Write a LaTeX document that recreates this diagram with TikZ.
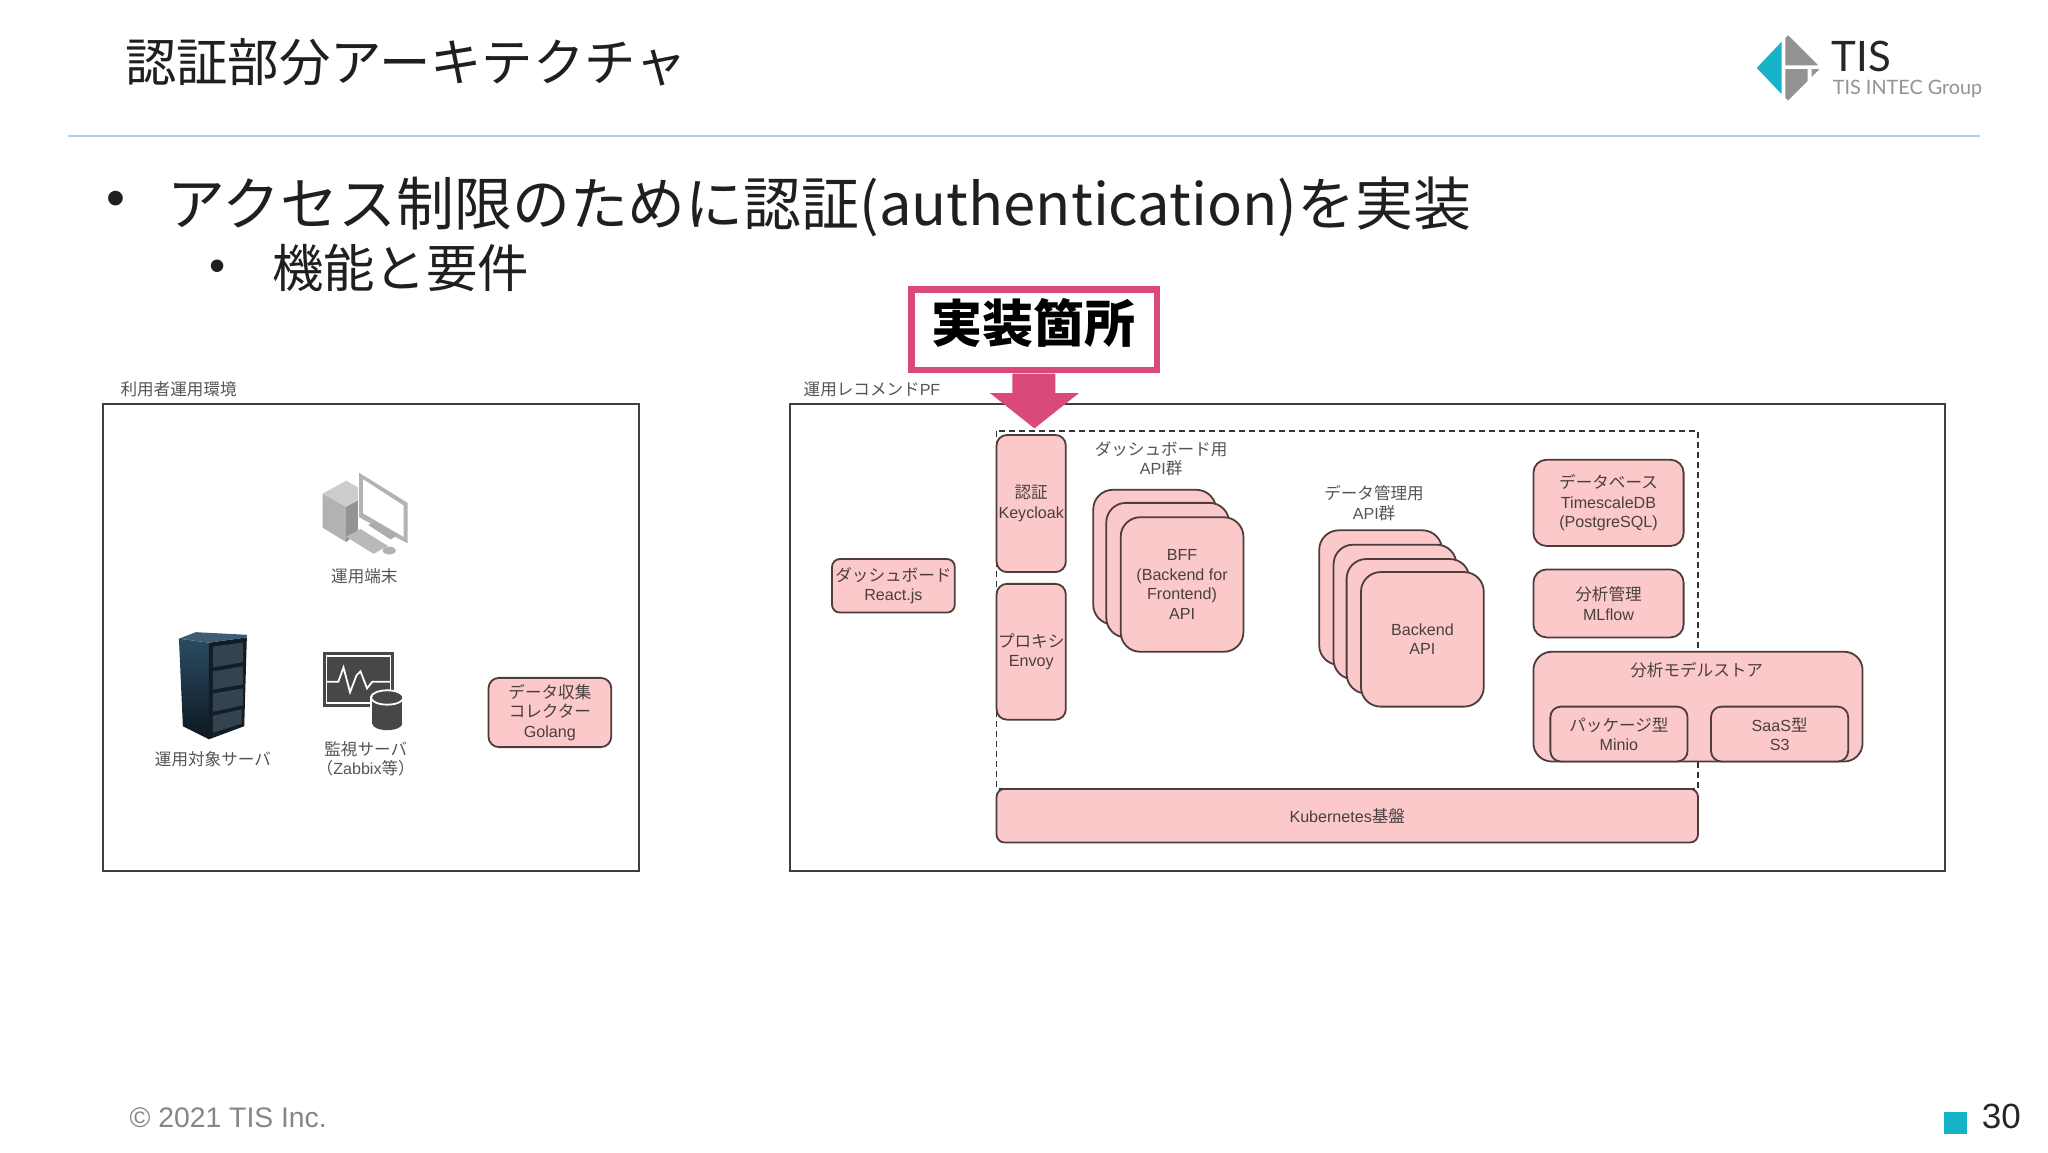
\documentclass[tikz,border=0pt]{standalone}
\usepackage{fontspec}
\setmainfont{Liberation Sans}
\newfontfamily\cjk{Noto Sans CJK JP}
\newfontfamily\cjkd[Scale=1.03]{Noto Sans CJK JP}
\newfontfamily\logofont{Lato}
\newcommand{\J}[1]{{\cjkd #1}}
\definecolor{pinkfill}{HTML}{FBC9C9}
\definecolor{pinkline}{HTML}{4E3C3C}
\definecolor{boxtext}{HTML}{4A3F3F}
\definecolor{labeltext}{HTML}{555555}
\definecolor{accent}{HTML}{D94A7A}
\definecolor{teal}{HTML}{16B3C8}
\definecolor{rulecol}{HTML}{A6D8E4}
\definecolor{frame}{HTML}{3E3E3E}
\definecolor{icondark}{HTML}{474747}
\definecolor{rackfront}{HTML}{121D26}
\definecolor{rackpanel}{HTML}{33434F}
\definecolor{racktop}{HTML}{3D5D72}
\definecolor{racksidetop}{HTML}{2A4C63}
\definecolor{racksidebot}{HTML}{0E1820}
\tikzset{
  pinkbox/.style={draw=pinkline,fill=pinkfill,line width=0.9pt,inner sep=0pt,text=boxtext,align=center,font=\fontsize{8.05}{9.8}\selectfont},
  framebox/.style={draw=frame,line width=1.1pt},
  lbl/.style={text=labeltext,align=center,inner sep=0pt,font=\fontsize{8.05}{9.8}\selectfont},
  bigtext/.style={inner sep=0pt,anchor=west,text=black!88},
}
% name, x1, y1, x2, y2, corner radius, text
\newcommand{\bx}[7]{\node[pinkbox,rounded corners={#6*0.653pt},minimum width={(#4-#2)*0.65306pt},minimum height={(#5-#3)*0.65306pt}] (#1) at ({(#2+#4)/2},{(#3+#5)/2}) {#7};}
\begin{document}
\begin{tikzpicture}[x=0.65306pt,y=-0.65306pt]
\useasboundingbox (0,0) rectangle (1568,882);
\fill[white] (0,0) rectangle (1568,882);
% header
\node[bigtext] (title) at (95.5,48) {\cjk\fontsize{25.7}{30}\selectfont 認証部分アーキテクチャ};
\coordinate (ruleL) at (52,104); \coordinate (ruleR) at (1516,104);
\draw[rulecol,line width=0.9pt] (ruleL) -- (ruleR);
% logo
\fill[teal] (1345,52) -- (1364,32) -- (1364,72) -- cycle;
\fill[gray!85] (1367,29) -- (1369,27) -- (1392,50) -- (1367,50) -- cycle;
\fill[gray!85] (1367,53) -- (1384,53) -- (1384,62) -- (1369,77) -- (1367,75) -- cycle;
\fill[gray!85] (1387,53) -- (1393,53) -- (1387,59) -- cycle;
\node[inner sep=0pt,anchor=west,text=black!85] (logoa) at (1402,43) {\logofont\fontsize{21}{24}\selectfont TIS};
\node[inner sep=0pt,anchor=west,text=gray!85] (logob) at (1403,68) {\logofont\fontsize{9.9}{12}\selectfont TIS INTEC Group};
% bullets
\node[bigtext] (b1) at (81,156) {\fontsize{27}{30}\selectfont •};
\node[bigtext] (t1) at (128,158) {\cjk\fontsize{28.95}{32}\selectfont アクセス制限のために認証(authentication)を実装};
\node[bigtext] (b2) at (160,207) {\fontsize{23}{26}\selectfont •};
\node[bigtext] (t2) at (208,205) {\cjk\fontsize{25.7}{30}\selectfont 機能と要件};
% left frame
\draw[framebox,fill=white] (79,309) rectangle (489,667);
\node[lbl,anchor=west] (l1) at (92,298) {\J{利用者運用環境}};
% PC icon
\fill[gray!60] (247,378) -- (265,388) -- (265,415) -- (247,404) -- cycle;
\fill[gray!85] (265,388) -- (274,383) -- (274,408) -- (265,415) -- cycle;
\fill[gray!40] (247,378) -- (265,368) -- (274,373) -- (274,383) -- (265,388) -- cycle;
\fill[gray!60] (275,362) -- (312,385) -- (312,416) -- (275,396) -- cycle;
\fill[white] (278,367) -- (309,387) -- (309,411) -- (278,393) -- cycle;
\fill[gray!65] (282,402) -- (287,399) -- (304,410) -- (299,413) -- cycle;
\fill[gray!55] (265,411) -- (276,405) -- (297,418) -- (286,424) -- cycle;
\fill[gray!60] (298,421.5) ellipse (5 and 3);
\node[lbl] (pc) at (279,441) {\J{運用端末}};
% server rack
\shade[top color=racksidetop,bottom color=racksidebot] (137,489) -- (160,492) -- (160,566) -- (140,556) -- cycle;
\fill[rackfront] (160,492) -- (189,488) -- (187,556) -- (160,566) -- cycle;
\fill[racktop] (137,489) -- (150,484) -- (189,486) -- (189,488) -- (160,492) -- cycle;
\fill[rackpanel] (163,495) -- (186,492) -- (186,507) -- (163,511) -- cycle;
\fill[rackpanel] (163,514) -- (186,510) -- (186,524) -- (163,528) -- cycle;
\fill[rackpanel] (163,531) -- (186,527) -- (186,540) -- (163,545) -- cycle;
\fill[rackpanel] (163,548) -- (185,543) -- (185,554) -- (163,561) -- cycle;
\node[lbl] (srv) at (163,581) {\J{運用対象サーバ}};
% monitoring icon
\fill[icondark] (247,499) rectangle (302,541);
\draw[white,line width=0.9pt] (250,502) rectangle (299,538);
\draw[white,line width=0.9pt] (250,522) -- (259,522) -- (263,511) -- (268,530) -- (273,517) -- (276,514) -- (281,527) -- (285,522) -- (299,522);
\fill[white] (283.5,533) rectangle (309.5,556);
\fill[icondark] (285,534) rectangle (308,554);
\fill[icondark] (296.5,554) ellipse (11.5 and 5);
\fill[icondark] (296.5,534) ellipse (11.5 and 5);
\draw[white,line width=0.9pt] (296.5,534) ellipse (12.5 and 5.5);
\node[lbl] (mon) at (280,581) {\J{監視サーバ}\\\J{（}Zabbix\J{等）}};
\bx{col}{374}{519}{468}{572}{8}{\J{データ収集}\\\J{コレクター}\\Golang}
% right frame
\draw[framebox,fill=white] (605,309) rectangle (1489,667);
\node[lbl,anchor=west] (l2) at (615,298) {\J{運用レコメンド}PF};
\draw[dashed,black!80,line width=0.6pt,dash pattern=on 3pt off 2pt] (763,330) rectangle (1300,604);
% callout
\node[draw=accent,line width=3.2pt,fill=white,minimum width={188*0.65306pt},minimum height={62*0.65306pt},inner sep=0pt] (call) at (792,252.5) {};
\node[inner sep=0pt,text=black] (calltext) at (791,247.5) {\cjk\bfseries\fontsize{25.5}{30}\selectfont 実装箇所};
\fill[accent] (775,286) -- (808,286) -- (808,301) -- (826,301) -- (792,328) -- (758,301) -- (775,301) -- cycle;
% boxes
\bx{auth}{763}{333}{816}{438}{8}{\J{認証}\\Keycloak}
\bx{proxy}{763}{447}{816}{551}{8}{\J{プロキシ}\\Envoy}
\bx{dash}{637}{428}{731}{469}{6}{\J{ダッシュボード}\\React.js}
\node[lbl] (lb1) at (889,351) {\J{ダッシュボード用}\\API\J{群}};
\bx{bffa}{837}{375}{931}{478}{15}{}
\bx{bffb}{847}{385}{941}{488}{15}{}
\bx{bffc}{858}{396}{952}{499}{15}{BFF\\(Backend for\\Frontend)\\API}
\node[lbl] (lb2) at (1052,385) {\J{データ管理用}\\API\J{群}};
\bx{bea}{1010}{406}{1104}{509}{15}{}
\bx{beb}{1021}{417}{1115}{520}{15}{}
\bx{bec}{1031}{428}{1125}{531}{15}{}
\bx{bed}{1042}{438}{1136}{541}{15}{Backend\\API}
\bx{db}{1174}{352}{1289}{418}{10}{\J{データベース}\\TimescaleDB\\(PostgreSQL)}
\bx{ml}{1174}{436}{1289}{488}{10}{\J{分析管理}\\MLflow}
\bx{store}{1174}{499}{1426}{583}{14}{}
\node[lbl,text=boxtext] (storet) at (1299,513) {\J{分析モデルストア}};
\bx{minio}{1187}{541}{1292}{583}{8}{\J{パッケージ型}\\Minio}
\bx{s3}{1310}{541}{1415}{583}{8}{SaaS\J{型}\\S3}
\bx{k8s}{763}{604}{1300}{645}{6}{Kubernetes\J{基盤}}
% footer
\node[inner sep=0pt,anchor=west,text=gray!95] (copy) at (99,856) {\fontsize{14.15}{18}\selectfont © 2021 TIS Inc.};
\fill[teal] (1488,851) rectangle (1506,868);
\node[inner sep=0pt,anchor=west,text=black!85] (page) at (1517,855) {\fontsize{17.5}{20}\selectfont 30};
\end{tikzpicture}
\end{document}
